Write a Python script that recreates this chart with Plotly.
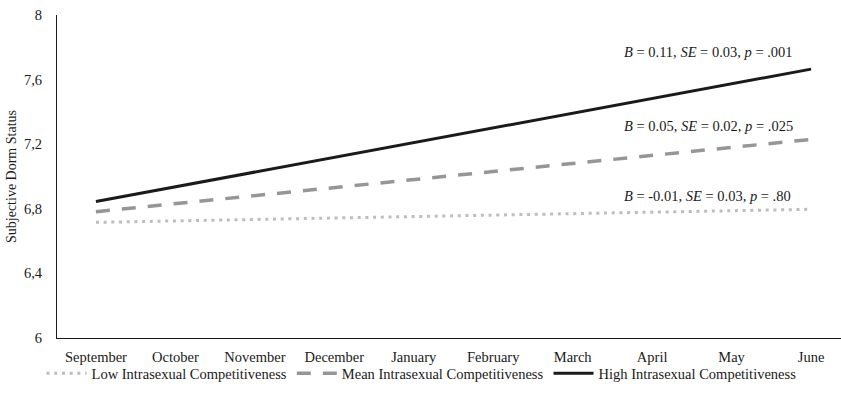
import plotly.graph_objects as go

months = ["September", "October", "November", "December", "January",
          "February", "March", "April", "May", "June"]
low_vals = [6.716, 6.725, 6.734, 6.743, 6.752, 6.761, 6.770, 6.779, 6.788, 6.797]
mean_vals = [6.782, 6.832, 6.882, 6.931, 6.981, 7.031, 7.081, 7.130, 7.180, 7.230]
high_vals = [6.845, 6.936, 7.027, 7.118, 7.209, 7.301, 7.392, 7.483, 7.574, 7.665]
series_names = ["Low Intrasexual Competitiveness",
                "Mean Intrasexual Competitiveness",
                "High Intrasexual Competitiveness"]
ytick_vals = [6, 6.4, 6.8, 7.2, 7.6, 8]
ytick_text = ["6", "6,4", "6,8", "7,2", "7,6", "8"]
stat_labels = [
    "<i>B</i> = 0.11, <i>SE</i> = 0.03, <i>p</i> = .001",
    "<i>B</i> = 0.05, <i>SE</i> = 0.02, <i>p</i> = .025",
    "<i>B</i> = -0.01, <i>SE</i> = 0.03, <i>p</i> = .80",
]
stat_label_y = [7.77, 7.31, 6.878]

FONT = "Liberation Serif"
FS = 14.5

fig = go.Figure()
fig.add_trace(go.Scatter(x=months, y=low_vals, mode="lines", name=series_names[0],
                         line=dict(color="#bdbdbd", width=3, dash="3px,4.7px")))
fig.add_trace(go.Scatter(x=months, y=mean_vals, mode="lines", name=series_names[1],
                         line=dict(color="#969696", width=3.5, dash="14px,12px")))
fig.add_trace(go.Scatter(x=months, y=high_vals, mode="lines", name=series_names[2],
                         line=dict(color="#1a1a1a", width=3)))

for txt, yv in zip(stat_labels, stat_label_y):
    fig.add_annotation(x=6.62, y=yv, xref="x", yref="y", text=txt, showarrow=False,
                       xanchor="left", yanchor="middle",
                       font=dict(family=FONT, size=FS, color="#1a1a1a"))

fig.update_layout(
    width=841, height=393,
    margin=dict(l=57, r=0, t=15, b=55),
    paper_bgcolor="white", plot_bgcolor="white",
    font=dict(family=FONT, size=FS, color="#1a1a1a"),
    showlegend=True,
    legend=dict(orientation="h", x=0.465, xref="paper", xanchor="center",
                y=-0.06, yanchor="top", font=dict(family=FONT, size=FS),
                bgcolor="rgba(0,0,0,0)",
                itemwidth=40, tracegroupgap=0, traceorder="normal"),
    xaxis=dict(type="category", range=[-0.49, 9.377], showgrid=False, zeroline=False,
               showline=True, linecolor="#1a1a1a", linewidth=1, ticks="",
               ticklabelstandoff=6, tickfont=dict(family=FONT, size=FS)),
    yaxis=dict(range=[6, 8], tickvals=ytick_vals, ticktext=ytick_text, showgrid=False,
               zeroline=False, showline=True, linecolor="#1a1a1a", linewidth=1,
               ticks="", ticklabelstandoff=11, tickfont=dict(family=FONT, size=FS),
               title=dict(text="Subjective Dorm Status", standoff=4,
                          font=dict(family=FONT, size=14))),
)

fig.write_html("out.html")
